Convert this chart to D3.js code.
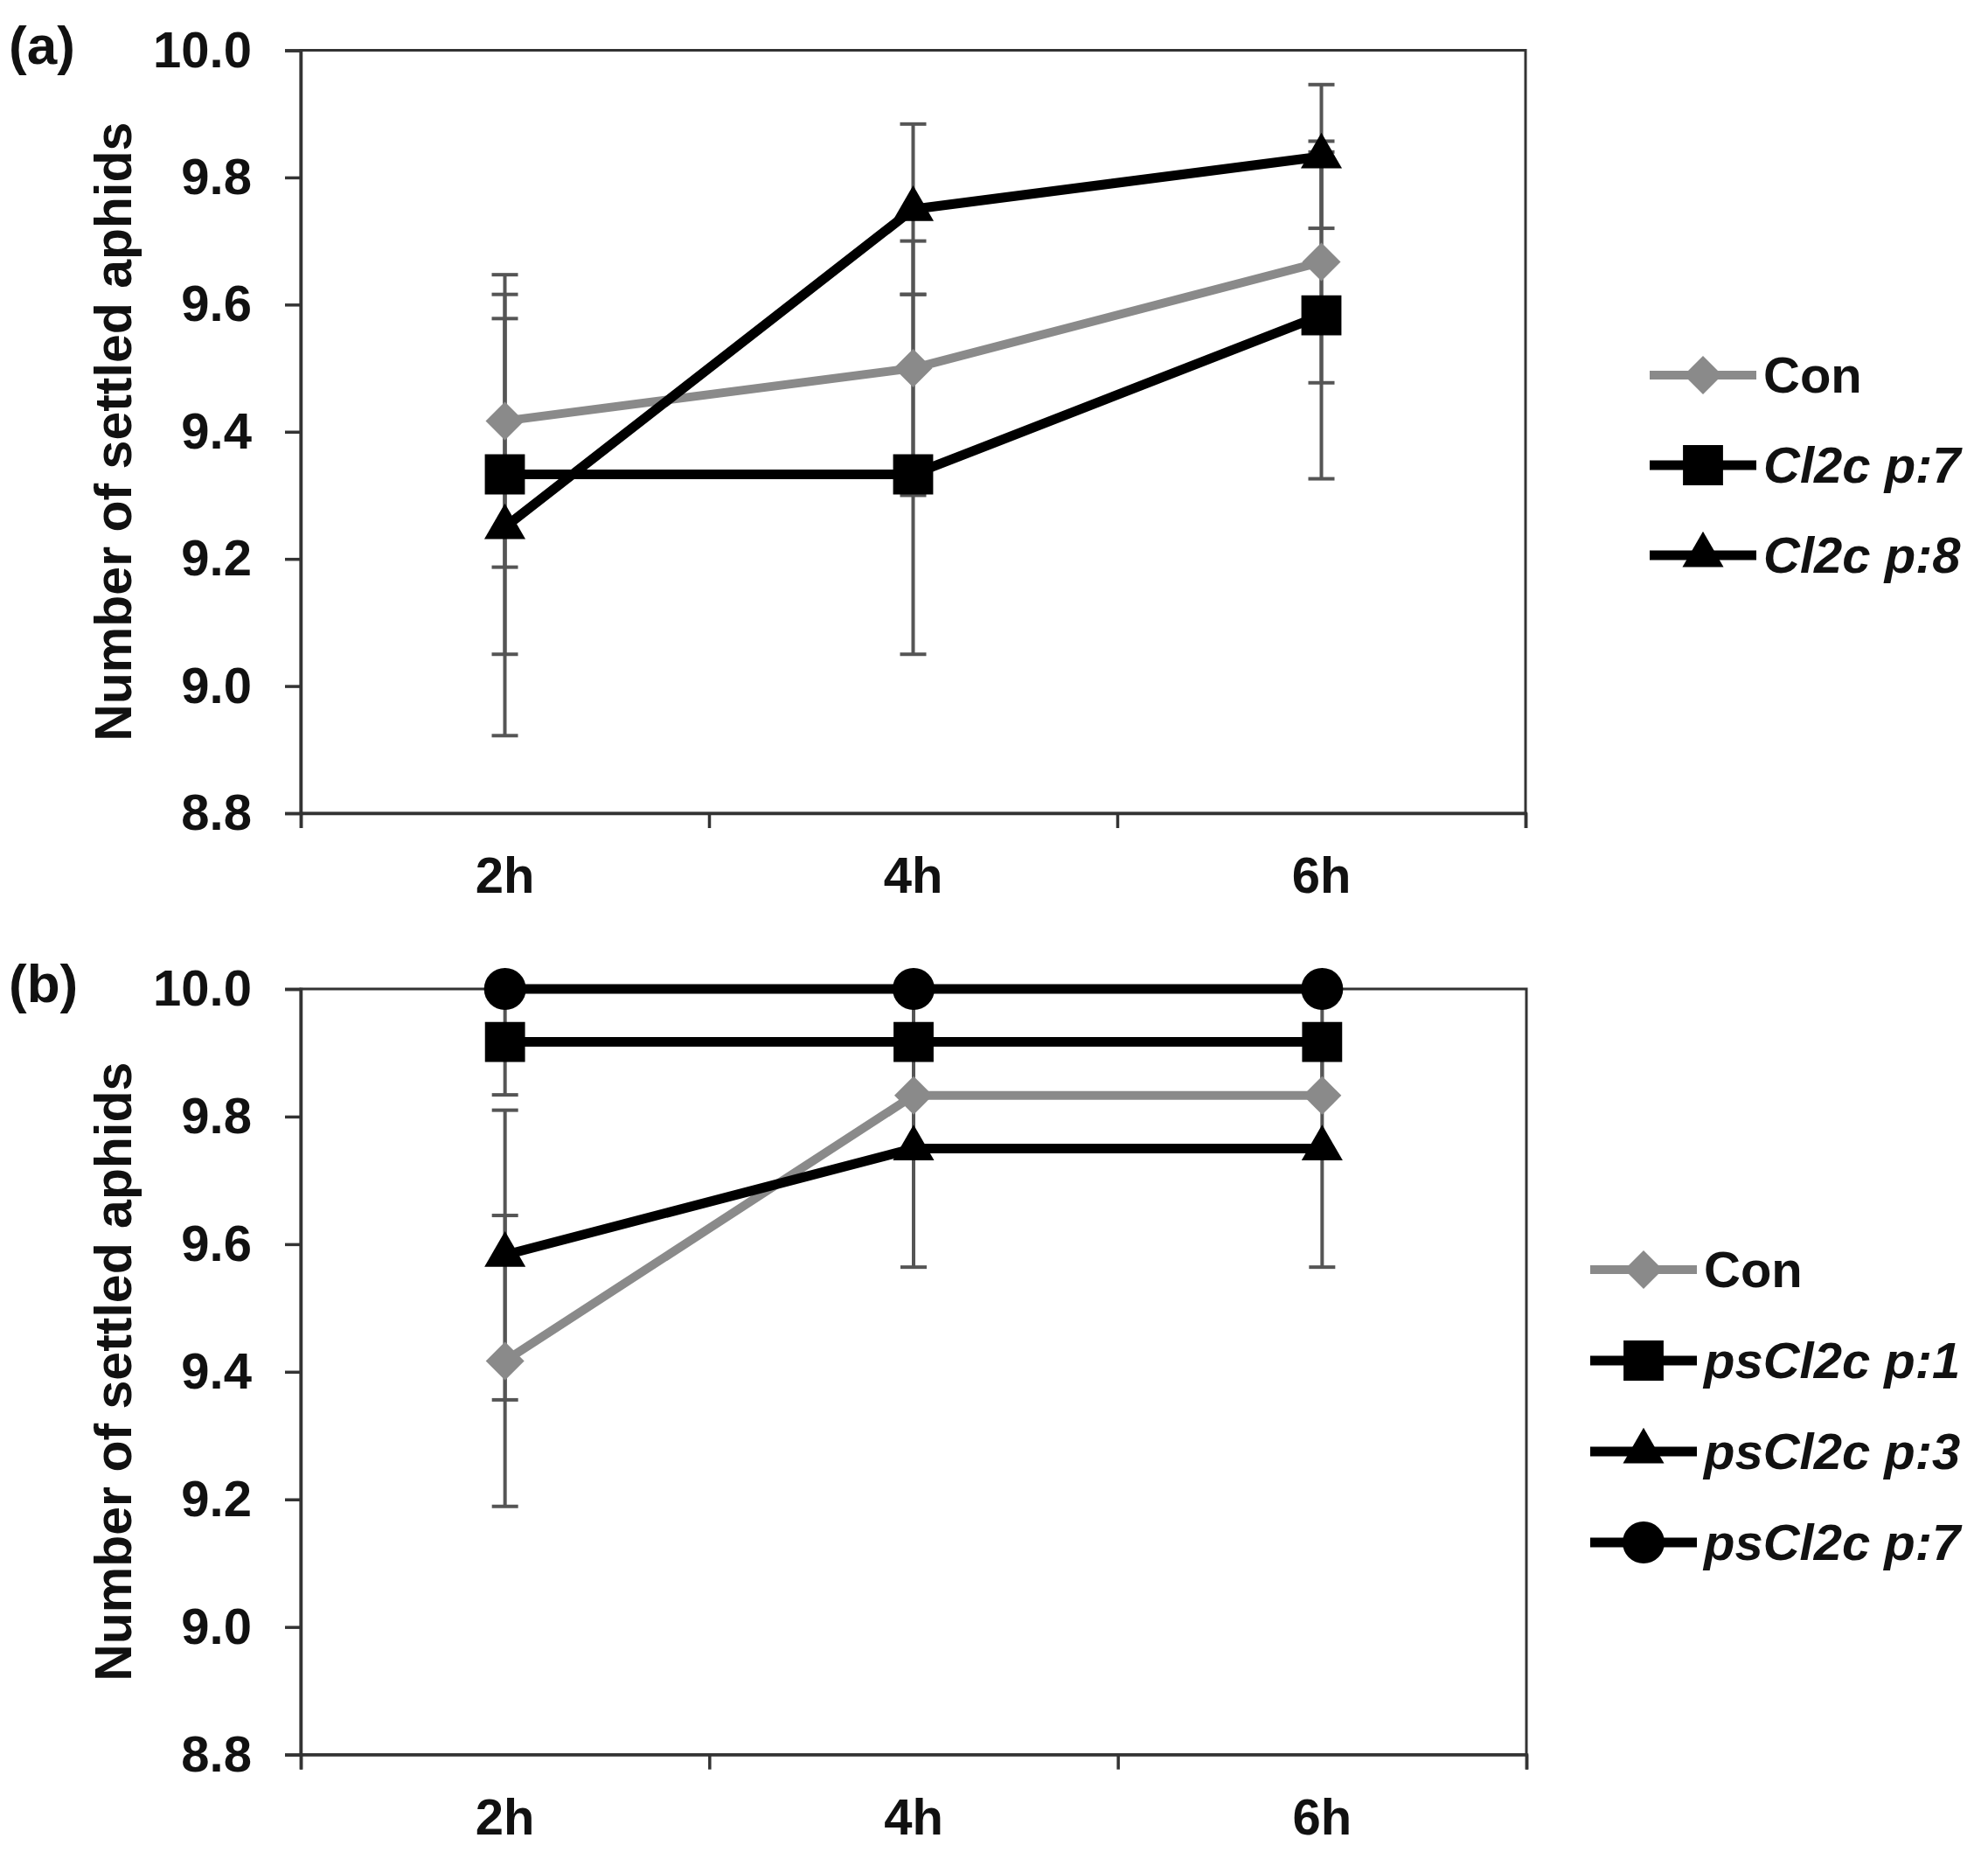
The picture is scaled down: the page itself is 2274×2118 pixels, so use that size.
<!DOCTYPE html>
<html>
<head>
<meta charset="utf-8">
<script src="https://cdn.jsdelivr.net/npm/d3@7"></script>
<style>
  body { margin: 0; background: #fff; }
  text { font-family: "Liberation Sans", Arial, sans-serif; font-weight: bold; fill: #111; }
</style>
</head>
<body>
<div id="chart"></div>
<script>
// data
var times = ["2h", "4h", "6h"];
var yTicks = [8.8, 9.0, 9.2, 9.4, 9.6, 9.8, 10.0];

// panel (a)
var aConMean = [9.417, 9.5, 9.667];
var aConErr = [0.23, 0.2, 0.19];
var aP7Mean = [9.333, 9.333, 9.583];
var aP7Err = [0.283, 0.283, 0.257];
var aP8Mean = [9.25, 9.75, 9.833];
var aP8Err = [0.328, 0.134, 0.113];

// panel (b)
var bConMean = [9.417, 9.833, 9.833];
var bConErr = [0.228, 0, 0];
var bP1Mean = [9.917, 9.917, 9.917];
var bP1Err = [0.083, 0.083, 0.083];
var bP3Mean = [9.583, 9.75, 9.75];
var bP3Err = [0.227, 0.186, 0.186];
var bP7Mean = [10, 10, 10];
var bP7Err = [0, 0, 0];

var W = 2274, H = 2118;
var svg = d3.select("#chart").append("svg")
  .attr("width", W)
  .attr("height", H);

var GRAY = "#8a8a8a", BLACK = "#000", BAR = "#555";

var symbols = {
  diamond: d3.symbol().type(d3.symbolDiamond2).size(1234),
  square: d3.symbol().type(d3.symbolSquare).size(2100),
  triangle: d3.symbol().type(d3.symbolTriangle).size(960),
  circle: d3.symbol().type(d3.symbolCircle).size(1810)
};

function drawPanel(p) {
  var g = svg.append("g");

  var x = d3.scaleBand()
    .domain(times)
    .range([p.left, p.right])
    .padding(0);
  var xEdge = d3.scaleLinear()
    .domain([0, times.length])
    .range([p.left, p.right]);
  var y = d3.scaleLinear()
    .domain([8.8, 10.0])
    .range([p.bottom, p.top]);
  var cx = (t) => x(t) + x.bandwidth() / 2;

  // plot frame
  g.append("rect")
    .attr("x", p.left)
    .attr("y", p.top)
    .attr("width", p.right - p.left)
    .attr("height", p.bottom - p.top)
    .attr("fill", "none")
    .attr("stroke", "#333")
    .attr("stroke-width", 3);

  // y axis
  var ya = g.append("g")
    .attr("transform", "translate(" + p.left + ",0)")
    .call(d3.axisLeft(y).tickValues(yTicks).tickFormat(d3.format(".1f")).tickSize(18).tickPadding(38));
  ya.selectAll("text").style("font-size", "58px");

  // x axis: ticks on band edges, labels at centres
  g.append("g")
    .attr("transform", "translate(0," + p.bottom + ")")
    .call(d3.axisBottom(xEdge).tickValues(d3.range(times.length + 1)).tickFormat("").tickSize(17));
  var xl = g.append("g")
    .attr("transform", "translate(0," + p.bottom + ")")
    .call(d3.axisBottom(x).tickSize(0).tickPadding(50));
  xl.select(".domain").remove();
  xl.selectAll("text").style("font-size", "58px");

  g.selectAll(".domain, .tick line")
    .attr("stroke", "#333")
    .attr("stroke-width", 3.5);

  // axis title
  g.append("text")
    .attr("transform", "translate(150," + ((p.top + p.bottom) / 2) + ") rotate(-90)")
    .attr("text-anchor", "middle")
    .style("font-size", "59px")
    .text("Number of settled aphids");

  // panel letter
  g.append("text")
    .attr("x", 10)
    .attr("y", p.top + 15)
    .style("font-size", "62px")
    .text(p.letter);

  // error bars
  p.series.forEach(function(s) {
    var pts = times.map((t, i) => ({t: t, v: s.mean[i], e: s.err[i]})).filter(d => d.e > 0);
    var eb = g.append("g").attr("stroke", BAR).attr("stroke-width", 4);
    eb.selectAll("line.v").data(pts).enter().append("line")
      .attr("x1", d => cx(d.t)).attr("x2", d => cx(d.t))
      .attr("y1", d => y(d.v - d.e)).attr("y2", d => y(d.v + d.e));
    [-1, 1].forEach(function(sg) {
      eb.selectAll(null).data(pts).enter().append("line")
        .attr("x1", d => cx(d.t) - 15).attr("x2", d => cx(d.t) + 15)
        .attr("y1", d => y(d.v + sg * d.e)).attr("y2", d => y(d.v + sg * d.e));
    });
  });

  var line = d3.line()
    .x((d, i) => cx(times[i]))
    .y(d => y(d));

  // lines then markers
  p.series.forEach(function(s) {
    g.append("path")
      .datum(s.mean)
      .attr("d", line)
      .attr("fill", "none")
      .attr("stroke", s.color)
      .attr("stroke-width", s.color === GRAY ? 10 : 11)
      .attr("stroke-linejoin", "round");
  });
  p.series.forEach(function(s) {
    g.selectAll(null).data(s.mean).enter().append("path")
      .attr("transform", (d, i) => "translate(" + cx(times[i]) + "," + y(d) + ")")
      .attr("d", symbols[s.shape])
      .attr("fill", s.color);
  });

  // legend
  var lg = g.append("g");
  p.series.forEach(function(s, i) {
    var ly = p.legendY + i * p.legendStep;
    lg.append("line")
      .attr("x1", p.legendX).attr("x2", p.legendX + 122)
      .attr("y1", ly).attr("y2", ly)
      .attr("stroke", s.color)
      .attr("stroke-width", s.color === GRAY ? 10 : 11);
    lg.append("path")
      .attr("transform", "translate(" + (p.legendX + 61) + "," + ly + ")")
      .attr("d", symbols[s.shape])
      .attr("fill", s.color);
    lg.append("text")
      .attr("x", p.legendX + 130)
      .attr("y", ly + 20)
      .style("font-size", "58px")
      .style("font-style", s.italic ? "italic" : "normal")
      .text(s.name);
  });
}

drawPanel({
  letter: "(a)", left: 344, right: 1745, top: 57.5, bottom: 930,
  legendX: 1887, legendY: 429, legendStep: 103,
  series: [
    {name: "Con", mean: aConMean, err: aConErr, color: GRAY, shape: "diamond", italic: false},
    {name: "Cl2c p:7", mean: aP7Mean, err: aP7Err, color: BLACK, shape: "square", italic: true},
    {name: "Cl2c p:8", mean: aP8Mean, err: aP8Err, color: BLACK, shape: "triangle", italic: true}
  ]
});

drawPanel({
  letter: "(b)", left: 344, right: 1746, top: 1131, bottom: 2006.6,
  legendX: 1819, legendY: 1452, legendStep: 104,
  series: [
    {name: "Con", mean: bConMean, err: bConErr, color: GRAY, shape: "diamond", italic: false},
    {name: "psCl2c p:1", mean: bP1Mean, err: bP1Err, color: BLACK, shape: "square", italic: true},
    {name: "psCl2c p:3", mean: bP3Mean, err: bP3Err, color: BLACK, shape: "triangle", italic: true},
    {name: "psCl2c p:7", mean: bP7Mean, err: bP7Err, color: BLACK, shape: "circle", italic: true}
  ]
});
</script>
</body>
</html>
